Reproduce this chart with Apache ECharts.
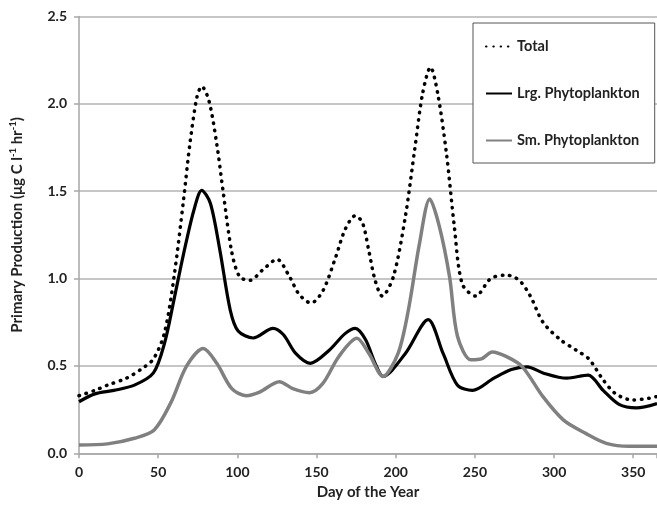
<!DOCTYPE html>
<html><head><meta charset="utf-8">
<script src="https://cdn.jsdelivr.net/npm/echarts@6/dist/echarts.min.js"></script>
<style>html,body{margin:0;padding:0;background:#fff}#c{width:657px;height:511px}</style>
</head><body><div id="c"></div>
<script>
const seriesNames = ['Total', 'Lrg. Phytoplankton', 'Sm. Phytoplankton'];
const xTicks = [0, 50, 100, 150, 200, 250, 300, 350];
const yTicks = [0, 0.5, 1.0, 1.5, 2.0, 2.5];

const totalDays = [0,10,18,30,39,47,54,60,66,70,74.5,77.5,82,87,91,96.5,101.5,108,116,125,133,139,146.5,154,162,168,174.5,179,183,187,191.5,198.5,206,212,217,222,226.5,232,237,242,250.5,260,270,278,285,293,304,314,322,331,339,349.5,360,365];
const totalVals = [0.33,0.36,0.39,0.43,0.48,0.54,0.69,1.01,1.45,1.77,2.04,2.10,2.02,1.77,1.50,1.15,1.01,0.99,1.05,1.11,1.01,0.91,0.86,0.93,1.12,1.28,1.36,1.32,1.16,0.99,0.90,1.01,1.35,1.74,2.06,2.21,2.06,1.72,1.30,0.97,0.90,1.00,1.02,0.99,0.90,0.75,0.65,0.59,0.54,0.42,0.34,0.305,0.315,0.325];

const lrgDays = [0,10,22,35,47,54,60,66,72.5,77.5,83,89,95.5,100.5,110,122.5,129,137,146,158,168,174.5,181,187,192,206,220.5,230,239,248.5,262,273,283,293,308,321.5,331,341,352,365];
const lrgVals = [0.295,0.34,0.36,0.39,0.46,0.63,0.88,1.14,1.39,1.505,1.43,1.16,0.82,0.70,0.66,0.715,0.68,0.57,0.515,0.59,0.685,0.715,0.65,0.515,0.44,0.57,0.765,0.57,0.39,0.36,0.43,0.48,0.495,0.46,0.43,0.448,0.36,0.28,0.26,0.285];

const smDays = [0,18,35,47.5,58,68,78.5,87,96.5,105.5,114,126.5,135,145.5,154,164,175.5,183,192,201.5,208,215,221.5,227.5,234,239,247.5,254,261,270,280,293,306,320,333,347.5,365];
const smVals = [0.047,0.054,0.086,0.134,0.29,0.50,0.60,0.515,0.37,0.33,0.35,0.41,0.37,0.347,0.40,0.553,0.658,0.572,0.44,0.572,0.82,1.20,1.455,1.30,1.01,0.67,0.535,0.54,0.58,0.553,0.495,0.324,0.19,0.114,0.057,0.04,0.04];

const pairs = (d, v) => d.map((x, i) => [x, v[i]]);
const FONT = 'Lato';
const chart = echarts.init(document.getElementById('c'), null, {renderer: 'canvas'});
chart.setOption({
  animation: false,
  backgroundColor: '#fff',
  grid: {left: 74, top: 16.5, width: 584, height: 436.8, containLabel: false},
  legend: {
    orient: 'vertical', left: 473, top: 23,
    backgroundColor: '#fff', borderColor: '#555', borderWidth: 1,
    padding: [16, 15, 15, 12],
    itemWidth: 26, itemHeight: 14, itemGap: 32,
    itemStyle: {opacity: 0},
    textStyle: {fontFamily: FONT, fontWeight: 'bold', fontSize: 14.5, color: '#222'},
    data: seriesNames
  },
  xAxis: {
    type: 'value', min: 0, max: 365, interval: 50,
    name: 'Day of the Year', nameLocation: 'middle', nameGap: 30,
    nameTextStyle: {fontFamily: FONT, fontWeight: 'bold', fontSize: 15, color: '#222'},
    axisLine: {show: true, lineStyle: {color: '#a6a6a6', width: 1.5}},
    axisTick: {show: true, inside: false, length: 5, lineStyle: {color: '#a6a6a6', width: 1.5}},
    axisLabel: {margin: 12, fontFamily: FONT, fontWeight: 'bold', fontSize: 14, color: '#222',
      customValues: xTicks},
    splitLine: {show: false}
  },
  yAxis: {
    type: 'value', min: 0, max: 2.5, interval: 0.5,
    name: '{b|Primary Production (μg C l}{s|-1}{b| hr}{s|-1}{b|)}', nameLocation: 'middle', nameGap: 54,
    nameTextStyle: {padding: [0, 0, 0, 20], rich: {
      b: {fontFamily: FONT, fontWeight: 'bold', fontSize: 15, color: '#222', lineHeight: 17, verticalAlign: 'bottom'},
      s: {fontFamily: FONT, fontWeight: 'bold', fontSize: 9.5, color: '#222', lineHeight: 17, verticalAlign: 'top'}
    }},
    axisLine: {show: true, lineStyle: {color: '#a6a6a6', width: 1.5}},
    axisTick: {show: true, inside: false, length: 5, lineStyle: {color: '#a6a6a6', width: 1.5}},
    axisLabel: {margin: 12, fontFamily: FONT, fontWeight: 'bold', fontSize: 14, color: '#222',
      formatter: v => v.toFixed(1), customValues: yTicks},
    splitLine: {show: true, lineStyle: {color: '#b3b3b3', width: 1.5}}
  },
  series: [
    {name: seriesNames[0], type: 'line', data: pairs(totalDays, totalVals), smooth: 0.3, symbol: 'none',
      lineStyle: {color: '#000', width: 3.5, type: [0.5, 6.8], cap: 'round'}, itemStyle: {color: '#000'}, z: 3},
    {name: seriesNames[1], type: 'line', data: pairs(lrgDays, lrgVals), smooth: 0.3, symbol: 'none',
      lineStyle: {color: '#000', width: 3.2}, itemStyle: {color: '#000'}, z: 4},
    {name: seriesNames[2], type: 'line', data: pairs(smDays, smVals), smooth: 0.3, symbol: 'none',
      lineStyle: {color: '#808080', width: 3.5}, itemStyle: {color: '#808080'}, z: 5}
  ]
});
</script></body></html>
